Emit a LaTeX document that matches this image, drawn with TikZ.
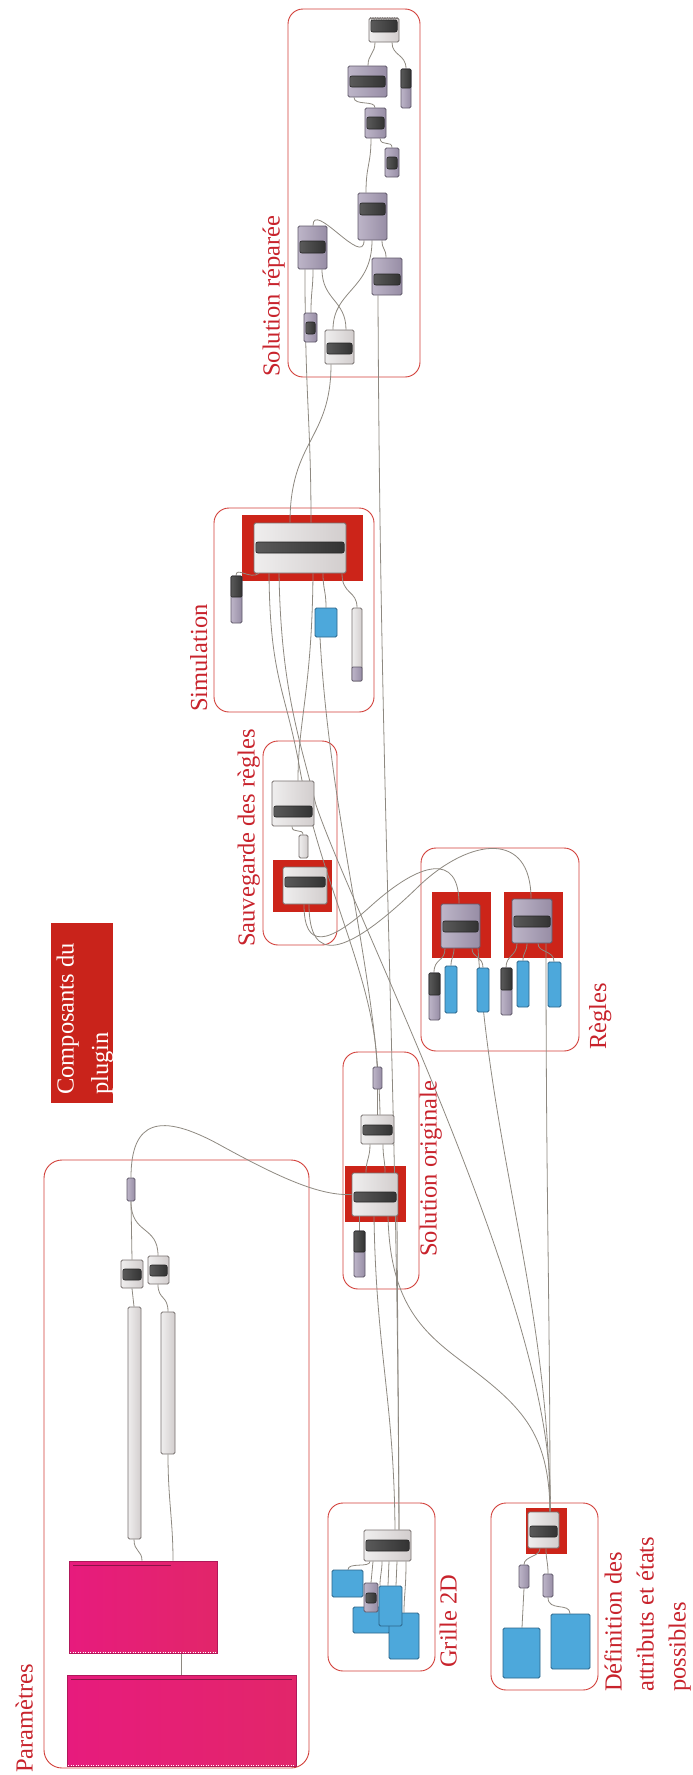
\documentclass[tikz,border=0pt]{standalone}
\usepackage{fontspec}
\usetikzlibrary{fit,decorations.pathmorphing}
\newfontfamily\lblf{Liberation Serif}
\definecolor{grpc}{HTML}{D2403A}
\definecolor{lblc}{HTML}{C8232C}
\definecolor{redbg}{HTML}{CC2419}
\definecolor{wirec}{HTML}{8E8981}
\definecolor{lgL}{HTML}{EFEEEE}
\definecolor{lgR}{HTML}{D2CDCD}
\definecolor{lgD}{HTML}{77716F}
\definecolor{puL}{HTML}{BDB5C8}
\definecolor{puR}{HTML}{978DA5}
\definecolor{puD}{HTML}{615A6B}
\definecolor{blu}{HTML}{4DA8DB}
\definecolor{bluD}{HTML}{2C6489}
\definecolor{pkL}{HTML}{E71B7D}
\definecolor{pkR}{HTML}{E2266A}
\definecolor{pkD}{HTML}{B0185A}
\definecolor{barL}{HTML}{5A5A5A}
\definecolor{barR}{HTML}{333333}
\definecolor{cmpc}{HTML}{C9231B}
\pgfdeclarelayer{bg}
\pgfdeclarelayer{wires}
\pgfsetlayers{bg,wires,main}
\tikzset{
  lg/.style={left color=lgL, right color=lgR, draw=lgD, line width=0.8pt, rounded corners=1.5pt, inner sep=0pt},
  pu/.style={left color=puL, right color=puR, draw=puD, line width=0.8pt, rounded corners=1.5pt, inner sep=0pt},
  bl/.style={fill=blu, draw=bluD, line width=0.8pt, rounded corners=1.5pt, inner sep=0pt},
  pk/.style={left color=pkL, right color=pkR, draw=pkD, line width=0.6pt, inner sep=0pt},
  rb/.style={fill=redbg, inner sep=0pt},
  bar/.style={left color=barL, right color=barR, draw=black!85, line width=0.6pt, rounded corners=2pt, inner sep=0pt},
  grp/.style={draw=grpc, line width=0.9pt, rounded corners=15pt, inner sep=0pt},
  wr/.style={draw=wirec, line width=0.8pt},
  lbl/.style={text=lblc, font=\lblf\fontsize{24.5}{29}\selectfont, inner sep=0pt, rotate=90, anchor=base west},
}
\newcommand\gcmp[8]{%
  \node[#2, fit={(#3,#4)(#5,#6)}] (#1) {};
  \node[bar, fit={(#3+1.8,#7)(#5-1.8,#8)}] (#1b) {};}
\newcommand\gsld[6]{%
  \node[pu, fit={(#2,#3)(#4,#5)}] (#1) {};
  \node[bar, rounded corners=1pt, fit={(#2,#3)(#4,#6)}] (#1k) {};}
\begin{document}
\begin{tikzpicture}[x=1pt,y=-1pt]
\useasboundingbox (0,0) rectangle (693,1775);
% ---------- components (main layer)
% Solution reparee
\gcmp{SRtop}{lg}{369}{18}{399}{42}{20}{32}
\draw[lgD, line width=0.6pt, decorate, decoration={zigzag, segment length=2.4pt, amplitude=0.9pt}] (370,18.5) -- (398,18.5);
\gcmp{SRA}{pu}{348}{66}{387}{97}{76}{87}
\gsld{SRsl}{401}{69}{411}{108}{88}
\gcmp{SRB}{pu}{365}{108}{386}{138}{117}{129}
\gcmp{SRC}{pu}{385}{148}{399}{177}{157}{169}
\gcmp{SRD}{pu}{358}{193}{387}{240}{203}{215}
\gcmp{SRE}{pu}{298}{226}{327}{269}{241}{253}
\gcmp{SRF}{pu}{372}{258}{402}{295}{274}{285}
\gcmp{SRG}{pu}{304}{313}{317}{342}{322}{334}
\gcmp{SRH}{lg}{325}{330}{354}{364}{343}{354}
% Simulation
\gcmp{SimC}{lg}{254}{523}{346}{573}{542}{553}
\gsld{SimS1}{231}{576}{242}{623}{597}
\node[bl, fit={(315,608)(337,637)}] (SimBl) {};
\node[lg, fit={(352,608)(362,681)}] (SimS2) {};
\node[pu, rounded corners=1pt, fit={(352,667)(362,681)}] (SimS2p) {};
% Sauvegarde
\gcmp{SvC1}{lg}{272}{781}{314}{826}{806}{817}
\node[lg, fit={(299,835)(308,858)}] (SvSm) {};
\gcmp{SvC2}{lg}{283}{867}{327}{904}{877}{887}
% Regles
\gcmp{RC1}{pu}{441}{904}{480}{948}{921}{932}
\gcmp{RC2}{pu}{512}{899}{552}{943}{916}{927}
\gsld{RS1}{429}{973}{440}{1020}{995}
\node[bl, fit={(445,966)(457,1013)}] (RB1) {};
\node[bl, fit={(477,968)(489,1012)}] (RB2) {};
\gsld{RS2}{501}{968}{512}{1015}{990}
\node[bl, fit={(517,961)(529,1007)}] (RB3) {};
\node[bl, fit={(548,962)(561,1007)}] (RB4) {};
% Solution originale
\node[pu, fit={(373,1067)(382,1089)}] (SoP) {};
\gcmp{SoC1}{lg}{361}{1115}{394}{1144}{1125}{1135}
\gcmp{SoC2}{lg}{352}{1173}{398}{1216}{1192}{1202}
\gsld{SoS}{354}{1231}{365}{1277}{1252}
% Grille 2D
\gcmp{GC}{lg}{364}{1530}{411}{1561}{1540}{1551}
\node[bl, fit={(332,1570)(363,1597)}] (GB1) {};
\node[bl, fit={(353,1607)(390,1633)}] (GB2) {};
\node[bl, fit={(389,1613)(419,1659)}] (GB4) {};
\gcmp{GP}{pu}{364}{1583}{378}{1612}{1593}{1603}
\node[bl, fit={(379,1586)(402,1626)}] (GB3) {};
% Definition
\gcmp{DC}{lg}{528}{1512}{559}{1548}{1526}{1537}
\node[pu, fit={(519,1565)(529,1588)}] (DP1) {};
\node[pu, fit={(543,1574)(553,1597)}] (DP2) {};
\node[bl, fit={(503,1628)(540,1678)}] (DB1) {};
\node[bl, fit={(551,1614)(590,1669)}] (DB2) {};
% Parametres
\node[pu, fit={(127,1178)(135,1201)}] (PP) {};
\gcmp{PC1}{lg}{121}{1260}{143}{1288}{1269}{1280}
\gcmp{PC2}{lg}{148}{1256}{169}{1284}{1265}{1276}
\node[lg, fit={(128,1307)(141,1539)}] (PB1) {};
\node[lg, fit={(161,1312)(175,1454)}] (PB2) {};
\node[pk, fit={(69,1561)(217,1653)}] (PK1) {};
\node[pk, fit={(67,1675)(296,1766)}] (PK2) {};
\draw[pkD!80!black, line width=1.3pt] (73,1565.5) -- (171,1565.5);
\draw[pkD!80!black, line width=1.3pt] (71,1679.5) -- (292,1679.5);
\draw[white, line width=0.8pt, dash pattern=on 1pt off 1.5pt] (70,1652) -- (216,1652);
\draw[white, line width=0.8pt, dash pattern=on 1pt off 1.5pt] (68,1765) -- (295,1765);
% Composants du plugin
\node[fill=cmpc, inner sep=0pt, fit={(51,923)(113,1103)}] (CP) {};
\node[lbl, text=white] (CPt1) at (73.5,1095) {Composants du};
\node[lbl, text=white] (CPt2) at (108,1095) {plugin};
% labels
\node[lbl] (LSR) at (279.5,377) {Solution réparée};
\node[lbl] (LSim) at (207,712) {Simulation};
\node[lbl] (LSv) at (254.7,947) {Sauvegarde des règles};
\node[lbl] (LR) at (606,1050) {Règles};
\node[lbl] (LSo) at (436.5,1257) {Solution originale};
\node[lbl] (LG) at (456.5,1668) {Grille 2D};
\node[lbl] (LD1) at (621.7,1692) {Définition des};
\node[lbl] (LD2) at (653.7,1692) {attributs et états};
\node[lbl] (LD3) at (685.7,1692) {possibles};
\node[lbl] (LP) at (32.5,1773) {Paramètres};
% ---------- background: groups and red highlights
\begin{pgfonlayer}{bg}
\fill[white] (0,0) rectangle (693,1775);
\node[grp, fit={(288,9)(420,377)}] (gSR) {};
\node[grp, fit={(214,508)(374,712)}] (gSim) {};
\node[grp, fit={(263,741)(337,945)}] (gSv) {};
\node[grp, fit={(421,848)(579,1051)}] (gR) {};
\node[grp, fit={(343,1052)(419,1289)}] (gSo) {};
\node[grp, fit={(328,1503)(435,1671)}] (gG) {};
\node[grp, fit={(491,1503)(598,1690)}] (gD) {};
\node[grp, rounded corners=18pt, fit={(44,1160)(309,1768)}] (gP) {};
\node[rb, fit={(242,515)(363,581)}] (SimR) {};
\node[rb, fit={(273,860)(332,912)}] (SvR) {};
\node[rb, fit={(432,892)(491,958)}] (RR1) {};
\node[rb, fit={(504,892)(563,958)}] (RR2) {};
\node[rb, fit={(345,1166)(406,1222)}] (SoR) {};
\node[rb, fit={(526,1508)(567,1554)}] (DR) {};
\end{pgfonlayer}
% ---------- wires
\begin{pgfonlayer}{wires}
% Solution reparee
\draw[wr] (375,0 |- SRtop.south) .. controls (375,54) and (368,54) .. (368,0 |- SRA.north);
\draw[wr] (392,0 |- SRtop.south) .. controls (392,56) and (406,54) .. (406,0 |- SRsl.north);
\draw[wr] (354,0 |- SRA.south) .. controls (354,106) and (375,100) .. (375,0 |- SRB.north);
\draw[wr] (371,0 |- SRB.south) .. controls (371,165) and (366,165) .. (366,0 |- SRD.north);
\draw[wr] (380,0 |- SRB.south) .. controls (381,147) and (392,140) .. (392,0 |- SRC.north);
\draw[wr] (313,0 |- SRE.north) .. controls (313,200) and (364,268) .. (364,0 |- SRD.south);
\draw[wr] (372,0 |- SRD.south) .. controls (372,290) and (333,290) .. (333,0 |- SRH.north);
\draw[wr] (382,0 |- SRD.south) .. controls (382,250) and (386,248) .. (386,0 |- SRF.north);
\draw[wr] (305,0 |- SRE.south) .. controls (305,400) and (311,420) .. (311,0 |- SimC.north);
\draw[wr] (313,0 |- SRE.south) .. controls (313,290) and (311,290) .. (311,0 |- SRG.north);
\draw[wr] (322,0 |- SRE.south) .. controls (322,300) and (346,300) .. (346,0 |- SRH.north);
\draw[wr] (331,0 |- SRH.south) .. controls (331,440) and (290,440) .. (290,0 |- SimC.north);
\draw[wr] (378,0 |- SRF.south) .. controls (380,800) and (398,1100) .. (399,0 |- GC.north);
% Simulation
\draw[wr] (236,0 |- SimS1.north) .. controls (236,566) and (250,580) .. (259,0 |- SimC.south);
\draw[wr] (323,0 |- SimC.south) .. controls (323,590) and (326,590) .. (326,0 |- SimBl.north);
\draw[wr] (342,0 |- SimC.south) .. controls (342,595) and (357,590) .. (357,0 |- SimS2.north);
\draw[wr] (269,0 |- SimC.south) .. controls (270,680) and (286,690) .. (300,770) .. controls (320,880) and (375,980) .. (377,0 |- SoP.north);
\draw[wr] (279,0 |- SimC.south) .. controls (281,690) and (300,740) .. (316,805) .. controls (355,920) and (560,1320) .. (550,0 |- DC.north);
\draw[wr] (313,0 |- SimC.south) .. controls (312,690) and (298,720) .. (298,0 |- SvC1.north);
\draw[wr] (320,0 |- SimBl.south) .. controls (330,820) and (378,980) .. (380,0 |- SoC1.north);
% Sauvegarde
\draw[wr] (292,0 |- SvC1.south) .. controls (292,834) and (303,828) .. (303,0 |- SvSm.north);
\draw[wr] (304,0 |- SvC2.south) .. controls (304,950) and (328,945) .. (372,905) .. controls (420,862) and (459,852) .. (459,0 |- RC1.north);
\draw[wr] (309,0 |- SvC2.south) .. controls (309,965) and (345,958) .. (420,885) .. controls (470,838) and (531,830) .. (531,0 |- RC2.north);
% Regles
\draw[wr] (445,0 |- RC1.south) .. controls (445,962) and (434,958) .. (434,0 |- RS1.north);
\draw[wr] (454,0 |- RC1.south) .. controls (454,956) and (451,958) .. (451,0 |- RB1.north);
\draw[wr] (472,0 |- RC1.south) .. controls (472,958) and (483,956) .. (483,0 |- RB2.north);
\draw[wr] (478,0 |- RC1.south) .. controls (492,1160) and (548,1300) .. (550,0 |- DC.north);
\draw[wr] (517,0 |- RC2.south) .. controls (517,956) and (506,955) .. (506,0 |- RS2.north);
\draw[wr] (527,0 |- RC2.south) .. controls (527,952) and (523,952) .. (523,0 |- RB3.north);
\draw[wr] (538,0 |- RC2.south) .. controls (538,953) and (554,950) .. (554,0 |- RB4.north);
\draw[wr] (546,0 |- RC2.south) .. controls (546,1200) and (550,1300) .. (550,0 |- DC.north);
% Solution originale
\draw[wr] (377,0 |- SoP.south) -- (377,0 |- SoC1.north);
\draw[wr] (370,0 |- SoC1.south) .. controls (370,1158) and (366,1160) .. (366,0 |- SoC2.north);
\draw[wr] (383,0 |- SoC1.south) .. controls (383,1158) and (385,1160) .. (385,0 |- SoC2.north);
\draw[wr] (359,0 |- SoC2.south) -- (359,0 |- SoS.north);
\draw[wr] (374,0 |- SoC2.south) .. controls (376,1350) and (394,1400) .. (395,0 |- GC.north);
\draw[wr] (397,0 |- SoC2.south) -- (399,0 |- GC.north);
\draw[wr] (388,0 |- SoC2.south) .. controls (390,1300) and (420,1330) .. (460,1360) .. controls (520,1405) and (549,1430) .. (550,0 |- DC.north);
\draw[wr] (PP.north) .. controls (131,1120) and (160,1112) .. (220,1145) .. controls (280,1178) and (320,1196) .. (SoC2.west);
% Parametres
\draw[wr] (131,0 |- PP.south) -- (132,0 |- PC1.north);
\draw[wr] (131,0 |- PP.south) .. controls (131,1235) and (158,1225) .. (158,0 |- PC2.north);
\draw[wr] (132,0 |- PC1.south) -- (134,0 |- PB1.north);
\draw[wr] (158,0 |- PC2.south) .. controls (158,1300) and (168,1295) .. (168,0 |- PB2.north);
\draw[wr] (134,0 |- PB1.south) .. controls (134,1552) and (142,1550) .. (142,0 |- PK1.north);
\draw[wr] (168,0 |- PB2.south) .. controls (168,1500) and (173,1520) .. (173,0 |- PK1.north);
\draw[wr] (181,0 |- PK1.south) -- (181,0 |- PK2.north);
% Grille 2D
\draw[wr] (370,0 |- GC.south) .. controls (370,1568) and (348,1562) .. (348,0 |- GB1.north);
\draw[wr] (373,0 |- GC.south) -- (371,0 |- GP.north);
\draw[wr] (382,0 |- GC.south) .. controls (382,1572) and (380,1575) .. (380,0 |- GB3.north);
\draw[wr] (389,0 |- GC.south) -- (388,0 |- GB3.north);
\draw[wr] (397,0 |- GC.south) -- (396,0 |- GB3.north);
\draw[wr] (406,0 |- GC.south) .. controls (406,1590) and (404,1595) .. (404,0 |- GB4.north);
% Definition
\draw[wr] (540,0 |- DC.south) .. controls (540,1557) and (524,1556) .. (524,0 |- DP1.north);
\draw[wr] (546,0 |- DC.south) .. controls (546,1560) and (548,1562) .. (548,0 |- DP2.north);
\draw[wr] (524,0 |- DP1.south) -- (522,0 |- DB1.north);
\draw[wr] (548,0 |- DP2.south) .. controls (548,1612) and (570,1602) .. (570,0 |- DB2.north);
\end{pgfonlayer}
\end{tikzpicture}
\end{document}
